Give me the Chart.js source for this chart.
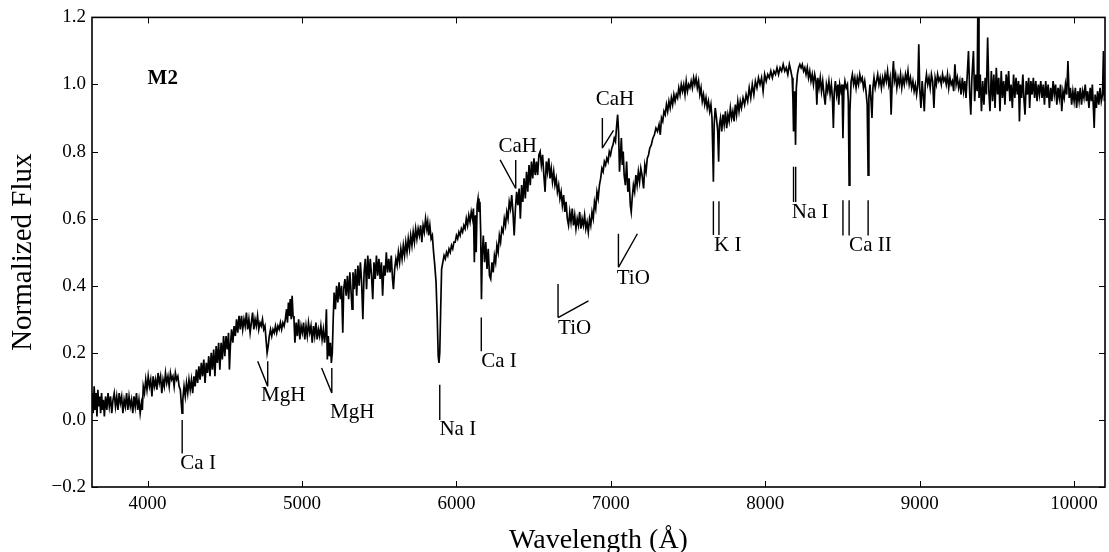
<!DOCTYPE html>
<html lang="en">
<head>
  <meta charset="UTF-8" />
  <title>M2 spectrum</title>
  <script src="https://cdn.jsdelivr.net/npm/chart.js"></script>
  <style>
    body { margin: 0; padding: 0; background: #fff; }
    canvas { display: block; }
  </style>
</head>
<body>
  <canvas id="spec" width="1109" height="552"></canvas>

  <script>
    // wavelength grid (Angstrom) and normalized flux
    const wavelength = [
      3642, 3648, 3654, 3660, 3666, 3672, 3678, 3684, 3690, 3696,
      3702, 3708, 3714, 3720, 3728, 3736, 3744, 3752, 3760, 3768,
      3776, 3784, 3792, 3800, 3808, 3816, 3824, 3832, 3840, 3848,
      3856, 3864, 3872, 3880, 3888, 3896, 3904, 3912, 3920, 3928,
      3936, 3944, 3952, 3960, 3966, 3972, 3980, 3988, 3996, 4004,
      4012, 4020, 4028, 4036, 4044, 4052, 4060, 4068, 4076, 4084,
      4092, 4100, 4108, 4116, 4124, 4132, 4140, 4148, 4156, 4164,
      4172, 4180, 4188, 4196, 4204, 4212, 4218, 4223, 4228, 4236,
      4244, 4252, 4260, 4268, 4276, 4284, 4292, 4300, 4308, 4316,
      4324, 4332, 4340, 4348, 4356, 4364, 4372, 4380, 4388, 4396,
      4404, 4412, 4420, 4428, 4436, 4444, 4452, 4460, 4468, 4476,
      4484, 4492, 4500, 4508, 4516, 4524, 4530, 4536, 4544, 4552,
      4560, 4568, 4576, 4584, 4592, 4600, 4608, 4616, 4624, 4632,
      4640, 4648, 4656, 4664, 4672, 4680, 4688, 4696, 4704, 4712,
      4720, 4728, 4736, 4744, 4752, 4760, 4767, 4774, 4781, 4788,
      4796, 4804, 4812, 4820, 4828, 4836, 4844, 4852, 4860, 4868,
      4876, 4884, 4892, 4900, 4906, 4912, 4918, 4924, 4930, 4936,
      4942, 4948, 4954, 4962, 4970, 4978, 4986, 4994, 5002, 5010,
      5018, 5026, 5034, 5042, 5050, 5058, 5066, 5074, 5082, 5090,
      5098, 5106, 5114, 5122, 5130, 5138, 5146, 5152, 5158, 5164,
      5170, 5177, 5184, 5190, 5196, 5202, 5208, 5216, 5224, 5232,
      5240, 5248, 5256, 5264, 5270, 5278, 5286, 5294, 5302, 5310,
      5318, 5324, 5330, 5338, 5346, 5354, 5362, 5370, 5378, 5386,
      5394, 5402, 5410, 5418, 5426, 5434, 5442, 5450, 5458, 5466,
      5474, 5482, 5490, 5498, 5506, 5514, 5522, 5530, 5538, 5546,
      5554, 5562, 5570, 5578, 5586, 5592, 5600, 5608, 5616, 5624,
      5632, 5640, 5648, 5656, 5664, 5672, 5680, 5688, 5696, 5704,
      5712, 5720, 5728, 5736, 5744, 5752, 5760, 5768, 5776, 5784,
      5792, 5800, 5808, 5814, 5820, 5828, 5836, 5844, 5852, 5860,
      5868, 5876, 5882, 5887, 5892, 5898, 5904, 5912, 5920, 5928,
      5936, 5944, 5952, 5960, 5968, 5976, 5984, 5992, 6000, 6008,
      6016, 6024, 6032, 6040, 6048, 6056, 6064, 6072, 6080, 6088,
      6096, 6104, 6110, 6116, 6122, 6128, 6134, 6140, 6146, 6152,
      6157, 6162, 6167, 6174, 6182, 6190, 6198, 6206, 6214, 6222,
      6230, 6238, 6246, 6254, 6262, 6270, 6278, 6286, 6294, 6302,
      6310, 6318, 6326, 6334, 6342, 6350, 6358, 6366, 6374, 6382,
      6390, 6398, 6406, 6414, 6422, 6430, 6438, 6446, 6454, 6462,
      6470, 6478, 6486, 6494, 6502, 6510, 6518, 6526, 6534, 6542,
      6550, 6558, 6566, 6574, 6582, 6590, 6598, 6606, 6614, 6622,
      6630, 6638, 6646, 6654, 6662, 6670, 6678, 6686, 6694, 6702,
      6710, 6718, 6726, 6734, 6742, 6750, 6758, 6766, 6774, 6782,
      6790, 6798, 6806, 6814, 6822, 6830, 6838, 6846, 6854, 6862,
      6870, 6878, 6886, 6894, 6902, 6910, 6918, 6926, 6934, 6942,
      6950, 6958, 6966, 6974, 6982, 6990, 6998, 7006, 7014, 7022,
      7030, 7038, 7044, 7050, 7056, 7062, 7068, 7074, 7080, 7086,
      7094, 7102, 7110, 7118, 7126, 7132, 7138, 7146, 7154, 7162,
      7170, 7178, 7186, 7194, 7202, 7212, 7220, 7228, 7236, 7244,
      7252, 7262, 7272, 7282, 7292, 7302, 7312, 7320, 7328, 7336,
      7344, 7352, 7360, 7368, 7376, 7384, 7392, 7400, 7408, 7416,
      7424, 7432, 7440, 7448, 7456, 7464, 7472, 7480, 7488, 7496,
      7504, 7512, 7520, 7528, 7536, 7544, 7552, 7560, 7568, 7576,
      7584, 7592, 7600, 7608, 7616, 7624, 7632, 7640, 7648, 7655,
      7660, 7664, 7669, 7676, 7684, 7692, 7698, 7703, 7710, 7718,
      7726, 7734, 7742, 7750, 7758, 7766, 7774, 7782, 7790, 7798,
      7806, 7814, 7822, 7830, 7838, 7846, 7856, 7866, 7876, 7886,
      7896, 7906, 7916, 7926, 7936, 7946, 7956, 7966, 7976, 7986,
      7996, 8006, 8016, 8026, 8036, 8046, 8056, 8066, 8076, 8086,
      8096, 8106, 8116, 8126, 8136, 8146, 8156, 8166, 8174, 8179,
      8183, 8188, 8192, 8196, 8201, 8208, 8216, 8224, 8232, 8240,
      8248, 8256, 8264, 8272, 8280, 8288, 8296, 8304, 8312, 8320,
      8328, 8334, 8340, 8348, 8356, 8364, 8372, 8380, 8388, 8396,
      8404, 8412, 8420, 8428, 8435, 8441, 8447, 8454, 8462, 8470,
      8476, 8482, 8490, 8497, 8503, 8509, 8516, 8524, 8532, 8538,
      8543, 8548, 8556, 8564, 8572, 8580, 8588, 8596, 8604, 8612,
      8620, 8628, 8636, 8644, 8652, 8660, 8666, 8671, 8678, 8685,
      8691, 8697, 8704, 8712, 8720, 8728, 8736, 8744, 8752, 8760,
      8768, 8776, 8784, 8792, 8800, 8808, 8815, 8822, 8830, 8836,
      8844, 8852, 8860, 8868, 8876, 8884, 8892, 8900, 8908, 8916,
      8924, 8932, 8940, 8948, 8956, 8964, 8972, 8980, 8988, 8994,
      9000, 9008, 9016, 9024, 9030, 9036, 9044, 9052, 9060, 9068,
      9076, 9084, 9092, 9100, 9108, 9116, 9124, 9132, 9140, 9148,
      9156, 9164, 9172, 9180, 9188, 9196, 9204, 9212, 9220, 9228,
      9236, 9244, 9252, 9260, 9268, 9276, 9284, 9292, 9300, 9308,
      9316, 9324, 9331, 9338, 9348, 9356, 9364, 9372, 9378, 9384,
      9392, 9400, 9408, 9416, 9424, 9432, 9440, 9448, 9455, 9464,
      9472, 9480, 9488, 9496, 9504, 9512, 9520, 9528, 9536, 9544,
      9552, 9560, 9568, 9576, 9584, 9592, 9600, 9608, 9616, 9624,
      9632, 9640, 9646, 9652, 9660, 9668, 9676, 9682, 9690, 9698,
      9706, 9712, 9720, 9728, 9736, 9744, 9752, 9760, 9768, 9776,
      9784, 9792, 9800, 9808, 9816, 9824, 9832, 9840, 9848, 9856,
      9864, 9872, 9880, 9888, 9896, 9904, 9912, 9920, 9928, 9936,
      9944, 9952, 9960, 9968, 9976, 9984, 9992, 10000, 10008, 10016,
      10024, 10032, 10040, 10048, 10056, 10064, 10072, 10080, 10088, 10096,
      10104, 10112, 10118, 10124, 10130, 10136, 10144, 10152, 10160, 10168,
      10176, 10184, 10190, 10196, 10200
    ];

    const flux = [
      0.08, 0.02, 0.10, 0.03, 0.08, 0.01, 0.09, 0.04, 0.07, 0.02,
      0.08, 0.03, 0.06, 0.01, 0.07, 0.03, 0.08, 0.04, 0.07, 0.02,
      0.06, 0.08, 0.04, 0.07, 0.03, 0.08, 0.05, 0.07, 0.02, 0.06,
      0.04, 0.08, 0.03, 0.07, 0.04, 0.06, 0.02, 0.07, 0.04, 0.08,
      0.03, 0.06, 0.02, 0.05, 0.03, 0.10, 0.08, 0.12, 0.09, 0.13,
      0.10, 0.12, 0.07, 0.13, 0.10, 0.12, 0.09, 0.14, 0.11, 0.13,
      0.08, 0.12, 0.10, 0.14, 0.11, 0.13, 0.10, 0.14, 0.12, 0.13,
      0.10, 0.14, 0.12, 0.13, 0.10, 0.09, 0.05, 0.02, 0.06, 0.10,
      0.07, 0.11, 0.08, 0.12, 0.09, 0.12, 0.08, 0.13, 0.10, 0.15,
      0.11, 0.16, 0.12, 0.17, 0.13, 0.18, 0.11, 0.17, 0.14, 0.19,
      0.13, 0.20, 0.15, 0.21, 0.13, 0.22, 0.17, 0.23, 0.15, 0.23,
      0.18, 0.25, 0.19, 0.25, 0.21, 0.26, 0.15, 0.22, 0.27, 0.23,
      0.28, 0.25, 0.30, 0.26, 0.31, 0.27, 0.31, 0.27, 0.30, 0.28,
      0.32, 0.27, 0.30, 0.26, 0.29, 0.32, 0.27, 0.30, 0.28, 0.31,
      0.27, 0.29, 0.28, 0.30, 0.27, 0.28, 0.24, 0.20, 0.22, 0.25,
      0.27, 0.25, 0.27, 0.26, 0.28, 0.26, 0.28, 0.27, 0.29, 0.27,
      0.29, 0.28, 0.30, 0.33, 0.29, 0.35, 0.31, 0.36, 0.30, 0.37,
      0.31, 0.30, 0.23, 0.29, 0.25, 0.30, 0.24, 0.28, 0.26, 0.29,
      0.24, 0.28, 0.25, 0.29, 0.26, 0.28, 0.23, 0.28, 0.25, 0.29,
      0.24, 0.27, 0.25, 0.28, 0.24, 0.27, 0.23, 0.26, 0.33, 0.18,
      0.25, 0.19, 0.23, 0.17, 0.20, 0.30, 0.38, 0.33, 0.40, 0.35,
      0.41, 0.36, 0.40, 0.26, 0.39, 0.42, 0.37, 0.43, 0.36, 0.44,
      0.38, 0.33, 0.44, 0.39, 0.45, 0.37, 0.46, 0.40, 0.47, 0.41,
      0.30, 0.44, 0.48, 0.39, 0.49, 0.42, 0.48, 0.43, 0.36, 0.47,
      0.42, 0.49, 0.43, 0.48, 0.42, 0.47, 0.37, 0.46, 0.43, 0.50,
      0.44, 0.48, 0.44, 0.49, 0.42, 0.39, 0.45, 0.48, 0.46, 0.50,
      0.47, 0.51, 0.48, 0.52, 0.49, 0.53, 0.50, 0.54, 0.51, 0.55,
      0.52, 0.56, 0.53, 0.57, 0.54, 0.57, 0.55, 0.58, 0.53, 0.58,
      0.56, 0.60, 0.57, 0.59, 0.55, 0.58, 0.54, 0.55, 0.50, 0.46,
      0.41, 0.30, 0.19, 0.17, 0.20, 0.33, 0.45, 0.47, 0.49, 0.48,
      0.50, 0.49, 0.51, 0.50, 0.52, 0.51, 0.53, 0.53, 0.55, 0.54,
      0.56, 0.55, 0.57, 0.56, 0.58, 0.57, 0.60, 0.58, 0.61, 0.59,
      0.62, 0.60, 0.63, 0.47, 0.61, 0.50, 0.64, 0.66, 0.62, 0.65,
      0.56, 0.36, 0.49, 0.55, 0.47, 0.53, 0.45, 0.51, 0.43, 0.42,
      0.47, 0.44, 0.49, 0.47, 0.52, 0.50, 0.55, 0.53, 0.57, 0.56,
      0.60, 0.58, 0.62, 0.60, 0.65, 0.63, 0.67, 0.62, 0.55, 0.63,
      0.68, 0.64, 0.69, 0.60, 0.70, 0.65, 0.72, 0.66, 0.74, 0.68,
      0.76, 0.70, 0.77, 0.72, 0.78, 0.73, 0.77, 0.73, 0.79, 0.80,
      0.76, 0.79, 0.73, 0.68, 0.77, 0.74, 0.78, 0.72, 0.75, 0.71,
      0.74, 0.70, 0.72, 0.68, 0.70, 0.66, 0.68, 0.64, 0.67, 0.62,
      0.65, 0.60, 0.58, 0.62, 0.59, 0.63, 0.58, 0.61, 0.57, 0.60,
      0.58, 0.62, 0.57, 0.60, 0.58, 0.61, 0.57, 0.59, 0.56, 0.60,
      0.58, 0.62, 0.60, 0.65, 0.63, 0.68, 0.66, 0.70, 0.72, 0.75,
      0.74, 0.77, 0.76, 0.78, 0.77, 0.80, 0.79, 0.81, 0.82, 0.84,
      0.83, 0.88, 0.91, 0.86, 0.74, 0.79, 0.84, 0.76, 0.80, 0.73,
      0.70, 0.77, 0.68, 0.72, 0.64, 0.62, 0.66, 0.70, 0.68, 0.73,
      0.70, 0.74, 0.71, 0.75, 0.73, 0.69, 0.76, 0.74, 0.78, 0.79,
      0.81, 0.82, 0.84, 0.85, 0.87, 0.86, 0.88, 0.85, 0.90, 0.89,
      0.92, 0.91, 0.94, 0.92, 0.95, 0.93, 0.96, 0.94, 0.97, 0.95,
      0.97, 0.96, 0.99, 0.97, 1.00, 0.98, 1.00, 0.97, 1.01, 0.98,
      1.00, 0.99, 1.01, 0.99, 1.02, 1.00, 1.02, 0.99, 1.01, 0.97,
      0.99, 0.95, 0.97, 0.94, 0.96, 0.93, 0.95, 0.92, 0.94, 0.90,
      0.80, 0.71, 0.88, 0.93, 0.90, 0.86, 0.77, 0.88, 0.90, 0.86,
      0.91, 0.88, 0.92, 0.87, 0.91, 0.89, 0.93, 0.90, 0.92, 0.89,
      0.94, 0.91, 0.95, 0.92, 0.95, 0.93, 0.96, 0.94, 0.97, 0.95,
      0.99, 0.96, 1.00, 0.97, 1.01, 0.99, 1.02, 1.00, 1.02, 0.98,
      1.03, 1.01, 1.03, 1.02, 1.04, 1.02, 1.04, 1.03, 1.05, 1.03,
      1.05, 1.04, 1.06, 1.04, 1.05, 1.03, 1.06, 1.04, 1.02, 0.96,
      0.86, 0.98, 0.93, 0.82, 0.99, 1.03, 1.05, 1.06, 1.05, 1.06,
      1.04, 1.05, 1.03, 1.05, 1.02, 1.04, 1.01, 1.03, 1.00, 1.03,
      1.01, 0.94, 1.02, 0.99, 1.02, 0.98, 1.01, 0.97, 0.94, 1.00,
      0.98, 1.01, 0.97, 1.00, 0.96, 0.87, 0.98, 1.01, 0.97, 1.00,
      0.94, 1.00, 0.98, 1.00, 0.84, 0.98, 1.01, 0.99, 1.00, 0.95,
      0.70, 0.92, 1.01, 1.03, 1.00, 1.02, 0.99, 1.02, 1.00, 1.03,
      1.01, 1.02, 0.99, 1.01, 0.98, 0.94, 0.73, 0.96, 1.00, 0.95,
      0.90, 0.99, 1.02, 0.99, 1.01, 1.03, 1.00, 1.02, 0.99, 1.02,
      1.00, 1.03, 1.01, 1.04, 1.00, 1.02, 0.91, 1.01, 1.07, 1.01,
      1.03, 0.99, 1.02, 1.00, 1.03, 0.99, 1.02, 1.00, 1.03, 1.01,
      1.04, 1.00, 1.02, 0.99, 1.01, 0.98, 1.00, 0.97, 1.00, 1.12,
      0.99, 0.93, 1.01, 0.96, 0.92, 1.00, 1.03, 1.00, 1.02, 0.99,
      1.03, 1.01, 0.93, 1.02, 1.00, 1.03, 1.01, 1.02, 1.00, 1.03,
      1.01, 1.02, 1.00, 1.03, 0.99, 1.02, 1.00, 1.01, 0.98, 1.06,
      1.00, 1.02, 0.99, 1.01, 0.97, 1.02, 0.98, 1.01, 0.96, 1.03,
      1.10, 0.97, 0.91, 1.02, 1.10, 0.95, 1.03, 0.98, 1.30, 0.96,
      1.03, 0.92, 1.01, 0.94, 1.02, 0.97, 1.14, 0.98, 0.92, 1.04,
      0.95, 1.03, 0.93, 1.05, 0.97, 1.02, 0.92, 1.04, 0.96, 1.01,
      0.94, 1.03, 0.98, 1.04, 0.95, 1.00, 0.93, 1.03, 0.96, 1.02,
      0.97, 1.01, 0.89, 1.00, 0.96, 1.03, 0.95, 0.91, 1.01, 0.97,
      1.02, 0.93, 1.01, 0.97, 1.02, 0.96, 1.01, 0.95, 1.00, 0.97,
      1.01, 0.96, 1.00, 0.94, 1.01, 0.96, 1.00, 0.93, 0.99, 0.95,
      1.01, 0.97, 1.00, 0.94, 0.99, 0.96, 1.00, 0.92, 0.98, 0.96,
      1.00, 0.97, 1.07, 0.96, 0.99, 0.94, 0.98, 0.95, 0.99, 0.93,
      0.98, 0.95, 0.99, 0.94, 0.98, 0.96, 1.00, 0.95, 0.98, 0.93,
      0.99, 0.95, 1.00, 0.94, 0.87, 0.97, 0.93, 0.98, 0.94, 0.99,
      0.95, 0.97, 1.10, 0.95, 0.97
    ];

    const xTicks = [4000, 5000, 6000, 7000, 8000, 9000, 10000];
    const yTicks = [-0.2, 0.0, 0.2, 0.4, 0.6, 0.8, 1.0, 1.2];

    // line identifications: marker strokes [x1, y1, x2, y2] and label anchor (left, baseline)
    const featureNames = ['Ca I', 'MgH', 'MgH', 'Na I', 'Ca I', 'CaH', 'TiO', 'CaH', 'TiO', 'K I', 'Na I', 'Ca II'];
    const featureMarks = [
      [[4224, 0.0, 4224, -0.1]],
      [[4713, 0.175, 4778, 0.10], [4778, 0.175, 4778, 0.10]],
      [[5127, 0.155, 5193, 0.08], [5193, 0.155, 5193, 0.08]],
      [[5892, 0.105, 5892, 0.0]],
      [[6161, 0.305, 6161, 0.205]],
      [[6283, 0.775, 6384, 0.69], [6384, 0.775, 6384, 0.69]],
      [[6658, 0.405, 6658, 0.305], [6658, 0.305, 6855, 0.355]],
      [[6945, 0.90, 6945, 0.81], [6945, 0.81, 7017, 0.863]],
      [[7049, 0.555, 7049, 0.455], [7049, 0.455, 7172, 0.555]],
      [[7664, 0.652, 7664, 0.551], [7700, 0.652, 7700, 0.551]],
      [[8183, 0.755, 8183, 0.65], [8197, 0.755, 8197, 0.65]],
      [[8503, 0.655, 8503, 0.55], [8543, 0.655, 8543, 0.55], [8666, 0.655, 8666, 0.55]]
    ];
    const featureLabelAt = [
      [4212, -0.145], [4735, 0.055], [5181, 0.005], [5890, -0.045],
      [6161, 0.157], [6272, 0.80], [6658, 0.255], [6902, 0.94],
      [7038, 0.405], [7668, 0.505], [8172, 0.603], [8543, 0.505]
    ];

    const spectralType = 'M2';
    const typeAt = [4000, 1.0];

    const SERIF = "'Liberation Serif', 'DejaVu Serif', serif";

    const points = [];
    const n = Math.min(wavelength.length, flux.length);
    for (let i = 0; i < n; i++) points.push({ x: wavelength[i], y: flux[i] });

    // closed frame with inward ticks on all four sides, plus the line ids
    const framePlugin = {
      id: 'frame',
      afterDraw(chart) {
        const { ctx, chartArea: a, scales: { x, y } } = chart;
        ctx.save();
        ctx.strokeStyle = '#000';
        ctx.fillStyle = '#000';

        ctx.lineWidth = 1;
        ctx.beginPath();
        xTicks.forEach(v => {
          const px = Math.round(x.getPixelForValue(v)) + 0.5;
          ctx.moveTo(px, a.bottom); ctx.lineTo(px, a.bottom - 6);
          ctx.moveTo(px, a.top); ctx.lineTo(px, a.top + 6);
        });
        yTicks.forEach(v => {
          const py = Math.round(y.getPixelForValue(v)) + 0.5;
          ctx.moveTo(a.left, py); ctx.lineTo(a.left + 6, py);
          ctx.moveTo(a.right, py); ctx.lineTo(a.right - 6, py);
        });
        ctx.stroke();

        ctx.lineWidth = 1.6;
        ctx.strokeRect(a.left, a.top, a.right - a.left, a.bottom - a.top);

        ctx.lineWidth = 1.4;
        ctx.font = '21px ' + SERIF;
        ctx.textAlign = 'left';
        ctx.textBaseline = 'alphabetic';
        featureNames.forEach((name, i) => {
          ctx.beginPath();
          featureMarks[i].forEach(([x1, y1, x2, y2]) => {
            ctx.moveTo(x.getPixelForValue(x1), y.getPixelForValue(y1));
            ctx.lineTo(x.getPixelForValue(x2), y.getPixelForValue(y2));
          });
          ctx.stroke();
          const [lx, ly] = featureLabelAt[i];
          ctx.fillText(name, x.getPixelForValue(lx), y.getPixelForValue(ly));
        });

        ctx.font = 'bold 21px ' + SERIF;
        ctx.fillText(spectralType, x.getPixelForValue(typeAt[0]), y.getPixelForValue(typeAt[1]));
        ctx.restore();
      }
    };

    new Chart(document.getElementById('spec').getContext('2d'), {
      type: 'line',
      data: {
        datasets: [{
          data: points,
          borderColor: '#000',
          borderWidth: 1.7,
          pointRadius: 0,
          tension: 0,
          fill: false
        }]
      },
      options: {
        responsive: false,
        animation: false,
        parsing: false,
        normalized: true,
        layout: { padding: { left: 0, right: 4, top: 12, bottom: 0 } },
        plugins: { legend: { display: false }, tooltip: { enabled: false } },
        scales: {
          x: {
            type: 'linear',
            min: 3640,
            max: 10200,
            afterFit(s) { s.height = 65; },
            afterBuildTicks(s) { s.ticks = xTicks.map(v => ({ value: v })); },
            grid: { display: false, drawTicks: false },
            border: { display: false },
            ticks: {
              padding: 6,
              maxRotation: 0,
              autoSkip: false,
              color: '#000',
              font: { family: SERIF, size: 19 },
              callback: v => String(v)
            },
            title: {
              display: true,
              text: 'Wavelength (Å)',
              color: '#000',
              font: { family: SERIF, size: 28 },
              padding: { top: 0, bottom: -5 }
            }
          },
          y: {
            min: -0.2,
            max: 1.2,
            afterFit(s) { s.width = 92; },
            afterBuildTicks(s) { s.ticks = yTicks.map(v => ({ value: v })); },
            grid: { display: false, drawTicks: false },
            border: { display: false },
            ticks: {
              padding: 6,
              color: '#000',
              font: { family: SERIF, size: 19 },
              callback: v => (v < 0 ? '\u2212' : '') + Math.abs(v).toFixed(1)
            },
            title: {
              display: true,
              text: 'Normalized Flux',
              color: '#000',
              font: { family: SERIF, size: 29 },
              padding: { top: 6, bottom: 0 }
            }
          }
        }
      },
      plugins: [framePlugin]
    });
  </script>
</body>
</html>
